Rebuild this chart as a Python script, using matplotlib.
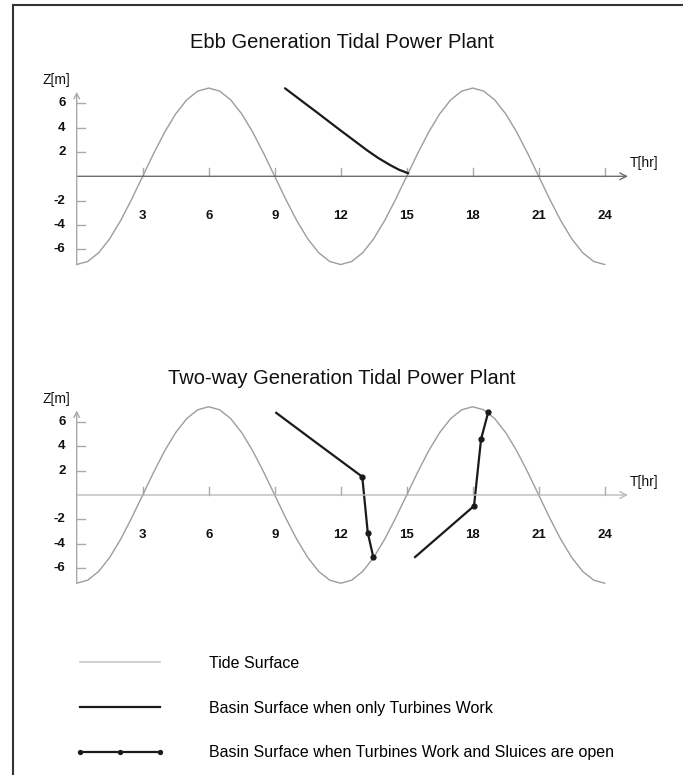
import matplotlib
matplotlib.use("Agg")
import matplotlib.pyplot as plt
from matplotlib.patches import Rectangle
from matplotlib.lines import Line2D

plt.rcParams['font.family'] = ['Liberation Sans', 'DejaVu Sans']

# ---------------- data ----------------
tide_t = [i * 0.5 for i in range(49)]
tide_z = [-7.25, -7.00, -6.28, -5.13, -3.63, -1.88, 0.00, 1.88, 3.63, 5.13, 6.28, 7.00,
          7.25, 7.00, 6.28, 5.13, 3.63, 1.88, 0.00, -1.88, -3.63, -5.13, -6.28, -7.00,
          -7.25, -7.00, -6.28, -5.13, -3.63, -1.88, 0.00, 1.88, 3.63, 5.13, 6.28, 7.00,
          7.25, 7.00, 6.28, 5.13, 3.63, 1.88, 0.00, -1.88, -3.63, -5.13, -6.28, -7.00,
          -7.25]

# Ebb generation: basin surface (turbines only)
ebb_t = [9.47, 10.15, 10.9, 11.97, 12.6, 13.18, 13.7, 14.24, 14.65, 15.07]
ebb_z = [7.23, 6.30, 5.28, 3.80, 2.95, 2.16, 1.51, 0.93, 0.54, 0.25]

# Two-way generation: turbines only segments
tw_turb1_t = [9.07, 11.0, 12.98]
tw_turb1_z = [6.75, 4.15, 1.50]
tw_turb2_t = [15.38, 18.06]
tw_turb2_z = [-5.10, -0.90]
# Two-way generation: turbines + sluices segments
tw_sluice1_t = [12.98, 13.23, 13.48]
tw_sluice1_z = [1.50, -3.09, -5.10]
tw_sluice2_t = [18.06, 18.38, 18.71]
tw_sluice2_z = [-0.90, 4.59, 6.83]

x_ticks = [3, 6, 9, 12, 15, 18, 21, 24]
y_ticks = [-6, -4, -2, 2, 4, 6]

titles = ["Ebb Generation Tidal Power Plant", "Two-way Generation Tidal Power Plant"]
legend_labels = ["Tide Surface",
                 "Basin Surface when only Turbines Work",
                 "Basin Surface when Turbines Work and Sluices are open"]

# ---------------- layout ----------------
W, H = 683, 775
fig = plt.figure(figsize=(W / 100, H / 100), dpi=100)

XL = (-2, 26)
YL = (-8, 8.5)
px_per_hr = 22.0
px_per_m = 12.17


def make_axes(x0_px, y0_px):
    left = x0_px + XL[0] * px_per_hr
    right = x0_px + XL[1] * px_per_hr
    top = y0_px - YL[1] * px_per_m
    bottom = y0_px - YL[0] * px_per_m
    ax = fig.add_axes([left / W, 1 - bottom / H, (right - left) / W, (bottom - top) / H])
    ax.set_xlim(*XL)
    ax.set_ylim(*YL)
    ax.axis('off')
    return ax


ax1 = make_axes(76.7, 176.3)
ax2 = make_axes(76.7, 495.0)

TIDE_C = '#9d9d9d'
BASIN_C = '#1a1a1a'


def draw_frame(ax, xaxis_color):
    # x axis with arrow
    ax.annotate('', xy=(25.06, 0), xytext=(0, 0),
                arrowprops=dict(arrowstyle='->', color=xaxis_color, lw=1.0,
                                shrinkA=0, shrinkB=0, mutation_scale=12))
    # y axis with arrow
    ax.annotate('', xy=(0, 6.95), xytext=(0, -7.25),
                arrowprops=dict(arrowstyle='->', color='#aaaaaa', lw=1.0,
                                shrinkA=0, shrinkB=0, mutation_scale=10))
    for t in x_ticks:
        ax.plot([t, t], [0, 0.66], color='#aaaaaa', lw=1.0)
        ax.text(t, -3.29, str(t), ha='center', va='center', fontsize=9.5,
                fontweight='bold', color='#111111')
    for z in y_ticks:
        ax.plot([0, 0.39], [z, z], color='#aaaaaa', lw=1.0)
        ax.text(-0.5, z, str(z), ha='right', va='center', fontsize=9.5,
                fontweight='bold', color='#111111')
    ax.text(-0.94, 7.9, 'Z[m]', ha='center', va='center', fontsize=10, color='#111111')
    ax.text(25.15, 1.07, 'T[hr]', ha='left', va='center', fontsize=10, color='#111111')


draw_frame(ax1, '#6e6e6e')
draw_frame(ax2, '#bbbbbb')

tide_line, = ax1.plot(tide_t, tide_z, color=TIDE_C, lw=1.0)
turb_line, = ax1.plot(ebb_t, ebb_z, color=BASIN_C, lw=1.6, solid_capstyle='round')

ax2.plot(tide_t, tide_z, color=TIDE_C, lw=1.0)
ax2.plot(tw_turb1_t, tw_turb1_z, color=BASIN_C, lw=1.6)
ax2.plot(tw_turb2_t, tw_turb2_z, color=BASIN_C, lw=1.6)
sl_line, = ax2.plot(tw_sluice1_t, tw_sluice1_z, color=BASIN_C, lw=1.6,
                    marker='o', ms=3.5)
ax2.plot(tw_sluice2_t, tw_sluice2_z, color=BASIN_C, lw=1.6, marker='o', ms=3.5)

# titles
fig.text(0.5, 1 - 42 / H, titles[0], ha='center', va='center', fontsize=14.5, color='#111111')
fig.text(0.5, 1 - 378 / H, titles[1], ha='center', va='center', fontsize=14.5, color='#111111')

# legend
leg_tide = Line2D([], [], color='#c8c8c8', lw=1.2)
leg_turb = Line2D([], [], color=BASIN_C, lw=1.6)
leg_sl = Line2D([], [], color=BASIN_C, lw=1.6, marker='o', ms=2.8)
fs = 11.5
fs_px = fs * 100 / 72
leg = fig.legend([leg_tide, leg_turb, leg_sl], legend_labels,
                 loc='upper left', bbox_to_anchor=(75 / W, 1 - 656 / H),
                 frameon=False, fontsize=fs, numpoints=3,
                 handlelength=90 / fs_px, handletextpad=44 / fs_px,
                 labelspacing=1.86, borderpad=0, borderaxespad=0)

# outer frame
fig.patches.append(Rectangle((13 / W, -0.1), 1.2, 1 - 5 / H + 0.1, transform=fig.transFigure,
                             fill=False, edgecolor='#333333', lw=1.5))

fig.savefig('out.png', dpi=100)
